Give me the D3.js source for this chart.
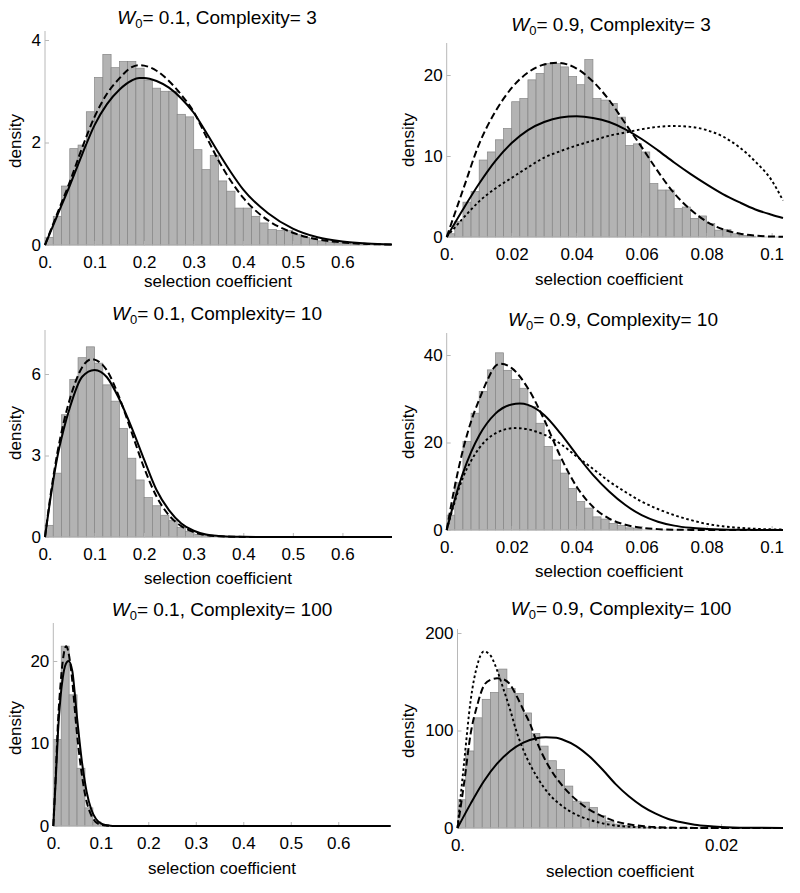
<!DOCTYPE html>
<html><head><meta charset="utf-8">
<script src="https://cdn.jsdelivr.net/npm/d3@7"></script>
<style>body{margin:0;background:#fff}svg{display:block;font-family:Arial,"Liberation Sans",sans-serif}</style>
</head><body>
<svg id="chart" width="800" height="893"></svg>
<script>
// ---------- data ----------
const w0Values = ["0.1", "0.9", "0.1", "0.9", "0.1", "0.9"];
const complexities = ["3", "3", "10", "10", "100", "100"];
const binWidths = [1/60, 0.0025, 1/60, 0.0025, 1/60, 0.000625];

const xTicksA = [0, 0.1, 0.2, 0.3, 0.4, 0.5, 0.6];
const xTickLabelsA = ["0.", "0.1", "0.2", "0.3", "0.4", "0.5", "0.6"];
const xTicksB = [0, 0.02, 0.04, 0.06, 0.08, 0.1];
const xTickLabelsB = ["0.", "0.02", "0.04", "0.06", "0.08", "0.1"];
const xTicksC = [0, 0.02];
const xTickLabelsC = ["0.", "0.02"];
const yTicks1 = [0, 2, 4];
const yTicks2 = [0, 10, 20];
const yTicks3 = [0, 3, 6];
const yTicks4 = [0, 20, 40];
const yTicks5 = [0, 10, 20];
const yTicks6 = [0, 100, 200];

const bars1 = [0.15, 0.56, 1.15, 1.88, 1.95, 2.6, 3.27, 3.72, 3.46, 3.58, 3.58, 3.45, 3.22, 3.06, 3.0, 3.0, 2.55, 2.5, 1.86, 1.47, 1.75, 1.25, 1.05, 0.72, 0.72, 0.56, 0.43, 0.3, 0.28, 0.28, 0.2, 0.15, 0.12, 0.08, 0.06, 0.04, 0.03, 0.02, 0.01];
const bars2 = [0.4, 1.9, 4.3, 5.6, 9.5, 10.5, 12.0, 13.4, 16.7, 17.1, 19.4, 20.2, 21.4, 21.4, 21.0, 19.8, 18.8, 21.9, 17.1, 16.9, 16.5, 14.8, 11.3, 11.5, 10.5, 6.6, 5.8, 5.8, 3.5, 3.7, 2.3, 2.6, 1.65, 0.85, 0.9, 0.4, 0.2, 0.1];
const bars3 = [0.43, 2.35, 4.5, 5.8, 6.6, 7.0, 6.4, 5.6, 5.0, 4.0, 2.9, 2.1, 1.45, 1.15, 0.8, 0.6, 0.35, 0.2, 0.1, 0.05];
const bars4 = [3.4, 10.8, 20.2, 26.7, 31.7, 36.6, 40.5, 36.5, 34.4, 32.4, 28.2, 24.4, 19.1, 16.0, 13.0, 9.5, 6.5, 5.0, 3.0, 2.5, 1.5, 1.0, 0.5, 0.3];
const bars5 = [10.5, 21.8, 15.9, 7.0, 2.2, 0.5, 0.1];
const bars6 = [29, 79, 113, 132, 139, 163, 143, 138, 118, 97, 84, 69, 60, 43, 27.5, 26.5, 21, 12.5, 7, 4, 2.5, 1.5, 1, 0.5, 0.3, 0.2];

const dashed1 = [[0,0],[0.025,0.62],[0.05,1.23],[0.075,1.9],[0.1,2.5],[0.125,2.95],[0.15,3.25],[0.175,3.47],[0.19,3.51],[0.2,3.5],[0.225,3.4],[0.25,3.2],[0.275,2.93],[0.3,2.6],[0.325,2.12],[0.35,1.65],[0.375,1.25],[0.4,0.92],[0.45,0.48],[0.5,0.24],[0.55,0.11],[0.6,0.05],[0.65,0.02],[0.7,0.01]];
const solid1 = [[0,0],[0.025,0.58],[0.05,1.16],[0.075,1.77],[0.1,2.34],[0.125,2.75],[0.15,3.03],[0.175,3.21],[0.19,3.26],[0.2,3.26],[0.225,3.2],[0.25,3.07],[0.275,2.86],[0.3,2.58],[0.325,2.2],[0.35,1.8],[0.375,1.42],[0.4,1.08],[0.45,0.62],[0.5,0.32],[0.55,0.15],[0.6,0.07],[0.65,0.03],[0.7,0.01]];

const dashed2 = [[0,0],[0.005,5.8],[0.01,11.5],[0.015,15.5],[0.02,18.4],[0.025,20.3],[0.03,21.3],[0.034,21.5],[0.04,20.8],[0.045,19.2],[0.05,16.9],[0.055,14.0],[0.06,11.1],[0.065,8.1],[0.07,5.4],[0.075,3.4],[0.08,1.9],[0.085,0.95],[0.09,0.42],[0.095,0.17],[0.1,0.06],[0.1035,0.03]];
const solid2 = [[0,0],[0.005,3.4],[0.01,6.6],[0.015,9.4],[0.02,11.6],[0.025,13.2],[0.03,14.2],[0.035,14.75],[0.04,14.9],[0.045,14.7],[0.05,14.2],[0.055,13.3],[0.06,12.1],[0.065,10.7],[0.07,9.2],[0.075,7.8],[0.08,6.5],[0.085,5.3],[0.09,4.3],[0.095,3.4],[0.1,2.75],[0.1035,2.35]];
const dotted2 = [[0,0],[0.005,2.3],[0.01,4.4],[0.015,6.0],[0.02,7.3],[0.025,8.6],[0.03,9.8],[0.035,10.6],[0.04,11.3],[0.045,11.9],[0.05,12.5],[0.055,12.9],[0.06,13.3],[0.065,13.6],[0.07,13.7],[0.075,13.6],[0.08,13.2],[0.085,12.4],[0.09,11.1],[0.095,9.3],[0.1,7.0],[0.1035,4.5]];

const dashed3 = [[0,0],[0.0125,1.7],[0.025,3.1],[0.0375,4.2],[0.05,5.07],[0.075,6.25],[0.095,6.55],[0.1,6.53],[0.125,6.13],[0.15,5.13],[0.175,3.84],[0.2,2.54],[0.225,1.49],[0.25,0.8],[0.275,0.4],[0.3,0.18],[0.325,0.07],[0.35,0.03],[0.4,0.004],[0.5,0],[0.7,0]];
const solid3 = [[0,0],[0.0125,1.6],[0.025,2.95],[0.0375,3.95],[0.05,4.76],[0.075,5.9],[0.1,6.15],[0.125,5.88],[0.15,5.07],[0.175,4.02],[0.2,2.85],[0.225,1.73],[0.25,0.99],[0.275,0.5],[0.3,0.23],[0.325,0.09],[0.35,0.04],[0.4,0.005],[0.5,0],[0.7,0]];

const dashed4 = [[0,0],[0.0025,10],[0.005,18.3],[0.0075,24.8],[0.01,29.8],[0.0125,34.2],[0.015,37.5],[0.0165,38.0],[0.02,37.0],[0.025,32.4],[0.03,25.2],[0.035,16.8],[0.04,9.9],[0.045,5.3],[0.05,2.6],[0.055,1.2],[0.06,0.5],[0.065,0.2],[0.07,0.06],[0.08,0.01],[0.1035,0]];
const solid4 = [[0,0],[0.0025,7],[0.005,13],[0.0075,17.8],[0.01,21.6],[0.015,26.6],[0.02,28.7],[0.0225,28.9],[0.025,28.6],[0.03,26.3],[0.035,22.1],[0.04,17.2],[0.045,12.6],[0.05,8.8],[0.055,5.7],[0.06,3.4],[0.065,1.9],[0.07,1.0],[0.075,0.5],[0.08,0.25],[0.09,0.05],[0.1035,0.01]];
const dotted4 = [[0,0],[0.0025,6.5],[0.005,12],[0.0075,15.8],[0.01,18.7],[0.015,22.1],[0.021,23.3],[0.025,23.0],[0.03,21.8],[0.035,19.7],[0.04,16.8],[0.045,14.0],[0.05,11.1],[0.055,8.7],[0.06,6.5],[0.065,4.8],[0.07,3.4],[0.075,2.3],[0.08,1.4],[0.085,0.85],[0.09,0.5],[0.095,0.28],[0.1,0.15],[0.1035,0.1]];

const dashed5 = [[0,0],[0.005,6],[0.01,12.7],[0.015,17.0],[0.02,20.0],[0.027,21.8],[0.035,20.0],[0.04,17.6],[0.045,14.3],[0.05,11.1],[0.055,8.5],[0.06,6.3],[0.065,4.4],[0.07,3.0],[0.08,1.3],[0.09,0.45],[0.1,0.15],[0.11,0.05],[0.12,0.02],[0.15,0],[0.71,0]];
const solid5 = [[0,0],[0.005,5.5],[0.01,11.5],[0.015,15.5],[0.02,18.0],[0.026,19.6],[0.032,20.0],[0.04,18.8],[0.045,16.2],[0.05,13.1],[0.055,10.4],[0.06,7.9],[0.065,5.9],[0.07,4.2],[0.08,2.0],[0.09,0.85],[0.1,0.32],[0.11,0.11],[0.12,0.04],[0.13,0.01],[0.15,0],[0.71,0]];

const dotted6 = [[0,0],[0.0005,67],[0.001,131],[0.0015,167],[0.002,181],[0.0025,177],[0.003,162],[0.0035,142],[0.004,121],[0.0045,98],[0.005,80],[0.006,53],[0.007,34],[0.008,22],[0.009,13.7],[0.01,8.5],[0.011,4.8],[0.012,2.5],[0.013,1.3],[0.014,0.6],[0.016,0.15],[0.018,0.03],[0.0247,0]];
const dashed6 = [[0,0],[0.0005,46],[0.001,97],[0.0015,126],[0.002,146],[0.0025,152],[0.003,153.5],[0.0035,152.5],[0.004,147],[0.0045,135],[0.005,121],[0.0055,107],[0.006,89],[0.007,61.5],[0.008,42.7],[0.009,29],[0.01,18.8],[0.011,12],[0.012,6.8],[0.013,3.8],[0.014,2],[0.016,0.5],[0.018,0.12],[0.02,0.03],[0.0247,0]];
const solid6 = [[0,0],[0.001,25],[0.002,48],[0.003,66],[0.004,79],[0.005,87.5],[0.006,92],[0.0067,93],[0.0075,92.5],[0.008,90.5],[0.009,84],[0.01,73.5],[0.011,60],[0.012,45],[0.013,32.5],[0.014,22.5],[0.015,15],[0.016,9.3],[0.017,5.8],[0.018,3.4],[0.019,2],[0.02,1.1],[0.022,0.3],[0.0247,0.05]];

// ---------- panel build (layout) ----------
const panels = [
  {bars: bars1, dashed: dashed1, solid: solid1, dotted: null, xt: xTicksA, xl: xTickLabelsA, yt: yTicks1,
   xd: [0, 0.7], xr: [45, 392], yRef: 4, yr: [245, 40], yTop: 31, titleY: 24, titleX: 217, dens: [15, 141], lab: [218, 287]},
  {bars: bars2, dashed: dashed2, solid: solid2, dotted: dotted2, xt: xTicksB, xl: xTickLabelsB, yt: yTicks2,
   xd: [0, 0.1035], xr: [446.7, 783], yRef: 20, yr: [237, 75], yTop: 43, titleY: 31, titleX: 611, dens: [408, 140], lab: [609, 285]},
  {bars: bars3, dashed: dashed3, solid: solid3, dotted: null, xt: xTicksA, xl: xTickLabelsA, yt: yTicks3,
   xd: [0, 0.7], xr: [45, 392], yRef: 6, yr: [537, 374], yTop: 330, titleY: 320, titleX: 217, dens: [15, 433], lab: [218, 584]},
  {bars: bars4, dashed: dashed4, solid: solid4, dotted: dotted4, xt: xTicksB, xl: xTickLabelsB, yt: yTicks4,
   xd: [0, 0.1035], xr: [446.7, 783], yRef: 40, yr: [530, 355], yTop: 333, titleY: 326, titleX: 613, dens: [408, 432], lab: [609, 577]},
  {bars: bars5, dashed: dashed5, solid: solid5, dotted: null, xt: xTicksA, xl: xTickLabelsA, yt: yTicks5,
   xd: [0, 0.71], xr: [53.3, 390.5], yRef: 20, yr: [826, 661], yTop: 623, titleY: 616, titleX: 222, dens: [15, 728], lab: [222, 874]},
  {bars: bars6, dashed: dashed6, solid: solid6, dotted: dotted6, xt: xTicksC, xl: xTickLabelsC, yt: yTicks6,
   xd: [0, 0.0247], xr: [457.5, 783], yRef: 200, yr: [828, 633], yTop: 629, titleY: 615, titleX: 621, dens: [408, 731], lab: [620, 877]}
];

const svg = d3.select("#chart");
svg.append("rect").attr("width", 800).attr("height", 893).attr("fill", "#fff");
const axisColor = "#b8b8b8";
const fontFam = "Arial, 'Liberation Sans', sans-serif";

panels.forEach((p, k) => {
  const x = d3.scaleLinear().domain(p.xd).range(p.xr);
  const y = d3.scaleLinear().domain([0, p.yRef]).range(p.yr);
  const g = svg.append("g");
  const bw = binWidths[k];

  // bars
  g.append("g").selectAll("rect").data(p.bars).join("rect")
    .attr("x", (d, i) => x(i * bw))
    .attr("width", (d, i) => x((i + 1) * bw) - x(i * bw))
    .attr("y", d => y(d))
    .attr("height", d => y(0) - y(d))
    .attr("fill", "#b3b3b3")
    .attr("stroke", "#858585")
    .attr("stroke-width", 0.7);

  // axes lines
  g.append("line").attr("x1", p.xr[0]).attr("x2", p.xr[1]).attr("y1", y(0)).attr("y2", y(0))
    .attr("stroke", axisColor).attr("stroke-width", 1);
  g.append("line").attr("x1", p.xr[0]).attr("x2", p.xr[0]).attr("y1", y(0)).attr("y2", p.yTop)
    .attr("stroke", axisColor).attr("stroke-width", 1);

  // x axis ticks
  const xa = g.append("g").attr("transform", `translate(0,${y(0)})`)
    .call(d3.axisBottom(x).tickValues(p.xt).tickFormat((d, i) => p.xl[i]).tickSizeInner(-4).tickSizeOuter(0).tickPadding(11));
  xa.select(".domain").remove();
  xa.selectAll(".tick line").attr("stroke", axisColor);
  xa.selectAll(".tick text").attr("fill", "#000").attr("font-size", 17).attr("font-family", fontFam);

  // y axis ticks
  const ya = g.append("g").attr("transform", `translate(${p.xr[0]},0)`)
    .call(d3.axisLeft(y).tickValues(p.yt).tickFormat(d3.format("d")).tickSizeInner(-4).tickSizeOuter(0).tickPadding(4));
  ya.select(".domain").remove();
  ya.selectAll(".tick line").attr("stroke", axisColor);
  ya.selectAll(".tick text").attr("fill", "#000").attr("font-size", 17).attr("font-family", fontFam);

  // curves
  const line = d3.line().x(d => x(d[0])).y(d => y(d[1])).curve(d3.curveMonotoneX);
  if (p.dotted) {
    g.append("path").attr("d", line(p.dotted)).attr("fill", "none").attr("stroke", "#000")
      .attr("stroke-width", 1.9).attr("stroke-dasharray", "2.6,2.6");
  }
  g.append("path").attr("d", line(p.solid)).attr("fill", "none").attr("stroke", "#000").attr("stroke-width", 2);
  g.append("path").attr("d", line(p.dashed)).attr("fill", "none").attr("stroke", "#000")
    .attr("stroke-width", 2).attr("stroke-dasharray", "7,3.5");

  // title
  const t = g.append("text").attr("x", p.titleX).attr("y", p.titleY).attr("text-anchor", "middle")
    .attr("font-size", 19).attr("fill", "#000");
  t.append("tspan").attr("font-style", "italic").text("W");
  t.append("tspan").attr("font-size", 13).attr("dy", 4).text("0");
  t.append("tspan").attr("dy", -4).text(`= ${w0Values[k]}, Complexity= ${complexities[k]}`);

  // axis labels
  g.append("text").attr("x", p.lab[0]).attr("y", p.lab[1]).attr("text-anchor", "middle")
    .attr("font-size", 17).attr("fill", "#000").text("selection coefficient");
  g.append("text").attr("transform", `translate(${p.dens[0] + 6},${p.dens[1]}) rotate(-90)`)
    .attr("text-anchor", "middle").attr("font-size", 17).attr("fill", "#000").text("density");
});
</script>
</body></html>
